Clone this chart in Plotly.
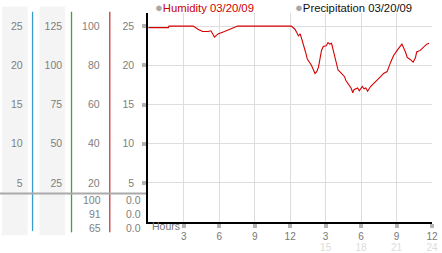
import plotly.graph_objects as go

# ---------------- data ----------------
hours = [0, 1.7, 1.75, 3.8, 4.2, 4.6, 5.05, 5.3, 5.6, 5.9, 6.45, 6.9, 7.3, 7.55, 12.1,
         12.4, 12.55, 12.7, 12.85, 13.0, 13.15, 13.3, 13.45, 13.6, 13.8, 14.1, 14.25,
         14.4, 14.5, 14.65, 14.8, 15.05, 15.2, 15.35, 15.5, 15.6, 15.75, 15.9, 16.05,
         16.2, 16.3, 16.6, 16.7, 16.9, 17.15, 17.3, 17.4, 17.7, 17.85, 18.1, 18.25,
         18.4, 18.55, 18.8, 19.1, 19.4, 19.65, 19.9, 20.2, 20.5, 20.75, 21.05, 21.3,
         21.45, 21.75, 21.9, 22.15, 22.4, 22.6, 22.7, 23.0, 23.25, 23.55, 23.75]
humidity = [24.8, 24.8, 25.0, 25.0, 24.6, 24.3, 24.3, 24.4, 23.6, 24.0, 24.3, 24.6, 24.8,
            25.0, 25.0, 24.6, 24.2, 23.75, 24.0, 23.3, 22.7, 21.7, 20.8, 20.4, 20.0,
            18.96, 19.2, 19.8, 20.8, 21.9, 22.4, 22.5, 22.9, 22.7, 22.8, 22.1, 21.5,
            20.2, 19.4, 19.2, 19.0, 18.55, 18.1, 17.7, 17.1, 16.5, 16.9, 17.1, 16.75,
            17.3, 17.0, 17.1, 16.7, 17.3, 17.7, 18.1, 18.55, 18.96, 19.2, 20.4, 21.25,
            21.9, 22.5, 22.7, 21.7, 21.0, 20.75, 20.4, 21.0, 21.7, 21.9, 22.3, 22.7, 22.8]

hour_ticks = [3, 6, 9, 12, 15, 18, 21, 24]
hour_labels = ["3", "6", "9", "12", "3", "6", "9", "12"]
hour_labels_24 = ["", "", "", "", "15", "18", "21", "24"]

main_ticks = [5, 10, 15, 20, 25]
col1_ticks = [5, 10, 15, 20, 25]
col2_ticks = [25, 50, 75, 100, 125]
col3_ticks = [20, 40, 60, 80, 100]

col3_current = ["100", "91", "65"]
col4_current = ["0.0", "0.0", "0.0"]

legend_items = ["Humidity 03/20/09", "Precipitation 03/20/09"]

# ---------------- layout helpers ----------------
W, H = 442, 253
def px(x):
    return x / W
def py(y):
    return 1 - y / H

FONT = "Liberation Sans, Arial, sans-serif"
GRAY = "#808080"
YMAX = 26.7

fig = go.Figure()
fig.add_trace(go.Scatter(x=hours, y=humidity, mode="lines",
                         line=dict(color="#d40000", width=1.1),
                         hoverinfo="skip", showlegend=False))
# helper traces so overlaying axes get drawn
for xa, ya in [("x2", "y"), ("x3", "y"), ("x", "y2"), ("x", "y3"), ("x", "y4")]:
    fig.add_trace(go.Scatter(x=[0], y=[0], xaxis=xa, yaxis=ya, mode="markers",
                             marker=dict(opacity=0), hoverinfo="skip", showlegend=False))

xdom = [px(150.3), px(438)]
ydom = [py(226.7), py(13)]

fig.update_layout(
    width=W, height=H, margin=dict(l=0, r=0, t=0, b=0),
    paper_bgcolor="white", plot_bgcolor="rgba(0,0,0,0)",
    font=dict(family=FONT, size=10, color=GRAY),
    xaxis=dict(domain=xdom, range=[0, 24], tickvals=hour_ticks, showticklabels=False,
               showgrid=True, gridcolor="#dddddd", gridwidth=1, zeroline=False,
               showline=True, linecolor="black", linewidth=2, ticks="", fixedrange=True),
    xaxis2=dict(domain=xdom, range=[0, 24], overlaying="x", anchor="free",
                position=py(228), side="bottom", tickvals=hour_ticks,
                ticktext=hour_labels, ticks="outside", ticklen=4, tickwidth=4,
                tickcolor="#b4b4b4", showline=False, showgrid=False, zeroline=False,
                tickfont=dict(size=10, color="#777777"), ticklabelstandoff=0,
                ticklabeloverflow="allow"),
    xaxis3=dict(domain=xdom, range=[0, 24], overlaying="x", anchor="free",
                position=py(244.5), side="bottom", tickvals=hour_ticks,
                ticktext=hour_labels_24, ticks="", showline=False, showgrid=False,
                zeroline=False, tickfont=dict(size=10, color="#dcdcdc"),
                ticklabeloverflow="allow"),
    yaxis=dict(domain=ydom, range=[0, YMAX], tickvals=main_ticks,
               ticktext=[str(v) for v in main_ticks],
               showgrid=True, gridcolor="#dddddd", gridwidth=1, zeroline=False,
               showline=True, linecolor="black", linewidth=2,
               ticks="outside", ticklen=4, tickwidth=4, tickcolor="#b4b4b4",
               ticklabelstandoff=6, tickfont=dict(color=GRAY, size=10.5), fixedrange=True),
    yaxis2=dict(domain=ydom, range=[0, YMAX], overlaying="y", anchor="free",
                position=px(23), side="left", tickvals=col1_ticks,
                ticktext=[str(v) for v in col1_ticks], ticks="", showline=False,
                showgrid=False, zeroline=False, tickfont=dict(color=GRAY, size=10.5)),
    yaxis3=dict(domain=ydom, range=[0, YMAX * 5], overlaying="y", anchor="free",
                position=px(63), side="left", tickvals=col2_ticks,
                ticktext=[str(v) for v in col2_ticks], ticks="", showline=False,
                showgrid=False, zeroline=False, tickfont=dict(color=GRAY, size=10.5)),
    yaxis4=dict(domain=ydom, range=[0, YMAX * 4], overlaying="y", anchor="free",
                position=px(101), side="left", tickvals=col3_ticks,
                ticktext=[str(v) for v in col3_ticks], ticks="", showline=False,
                showgrid=False, zeroline=False, tickfont=dict(color=GRAY, size=10.5)),
)

shapes = []
# column backgrounds
for x0, x1 in [(2, 28), (40, 66)]:
    shapes.append(dict(type="rect", xref="paper", yref="paper", x0=px(x0), x1=px(x1),
                       y0=py(240), y1=py(7), fillcolor="#f4f4f4", line=dict(width=0),
                       layer="below"))
# colored separators
for x, col, yb in [(33, "#3a9ccc", 235.7), (72.5, "#3aa63a", 237), (111.3, "#c43a3a", 237)]:
    shapes.append(dict(type="line", xref="paper", yref="paper", x0=px(x), x1=px(x),
                       y0=py(yb), y1=py(12), line=dict(color=col, width=1.3)))
# gray horizontal line
shapes.append(dict(type="line", xref="paper", yref="paper", x0=0, x1=px(148),
                   y0=py(197.3), y1=py(197.3), line=dict(color="#aaaaaa", width=2)))
fig.update_layout(shapes=shapes)

ann = []
rows_y = [204, 218.3, 232.5]
for i, yv in enumerate(rows_y):
    ann.append(dict(xref="paper", yref="paper", x=px(104.5), y=py(yv), text=col3_current[i],
                    showarrow=False, xanchor="right", yanchor="middle",
                    font=dict(size=10.5, color=GRAY)))
    ann.append(dict(xref="paper", yref="paper", x=px(144.5), y=py(yv), text=col4_current[i],
                    showarrow=False, xanchor="right", yanchor="middle",
                    font=dict(size=10.5, color=GRAY)))
ann.append(dict(xref="paper", yref="paper", x=px(152), y=py(231), text="Hours",
                showarrow=False, xanchor="left", yanchor="middle",
                font=dict(size=10.5, color="#777777")))
ann.append(dict(xref="paper", yref="paper", x=px(155.5), y=py(7.5), showarrow=False,
                xanchor="left", yanchor="middle",
                text="<span style='color:#a8a8a8;font-size:13px'>●</span>" + legend_items[0],
                font=dict(size=11.3, color="#cc0000")))
ann.append(dict(xref="paper", yref="paper", x=px(297), y=py(7.5), showarrow=False,
                xanchor="left", yanchor="middle",
                text="<span style='color:#a8a8a8;font-size:13px'>●</span>" + legend_items[1],
                font=dict(size=11.3, color="#111111")))
fig.update_layout(annotations=ann)

fig.write_html("out.html")
